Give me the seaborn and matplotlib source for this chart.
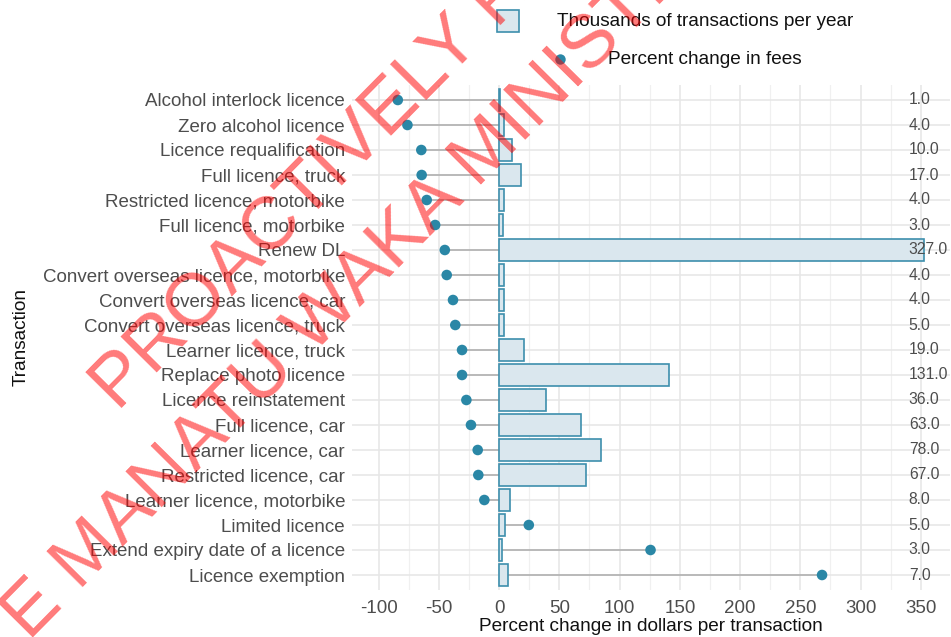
import numpy as np
import pandas as pd
import matplotlib
matplotlib.use("Agg")
import matplotlib.pyplot as plt
import seaborn as sns
from matplotlib.patches import Rectangle
from matplotlib.lines import Line2D

# ---------------- data ----------------
categories = [
    "Alcohol interlock licence", "Zero alcohol licence", "Licence requalification",
    "Full licence, truck", "Restricted licence, motorbike", "Full licence, motorbike",
    "Renew DL", "Convert overseas licence, motorbike", "Convert overseas licence, car",
    "Convert overseas licence, truck", "Learner licence, truck", "Replace photo licence",
    "Licence reinstatement", "Full licence, car", "Learner licence, car",
    "Restricted licence, car", "Learner licence, motorbike", "Limited licence",
    "Extend expiry date of a licence", "Licence exemption",
]
pct_change = [-84, -76, -64.5, -64.2, -60, -53, -45, -43.4, -38.2, -36.3,
              -30.7, -30.7, -27.1, -23.3, -17.7, -17.2, -12.2, 24.7, 125.7, 268]
bar_length = [0.8, 4.1, 10.5, 18.5, 4.3, 3.5, 352.8, 4.1, 4.0, 4.3,
              20.4, 141, 39, 67.8, 84.4, 72.2, 8.8, 4.9, 2.4, 7.4]
thousands_label = [1, 4, 10, 17, 4, 3, 327, 4, 4, 5, 19, 131, 36, 63, 78, 67, 8, 5, 3, 7]
x_ticks = [-100, -50, 0, 50, 100, 150, 200, 250, 300, 350]
x_minor = [-75, -25, 25, 75, 125, 175, 225, 275, 325]

# ---------------- style ----------------
sns.set_style("white")
plt.rcParams["font.family"] = ["Liberation Sans", "DejaVu Sans"]

W, H = 951, 637
fig = plt.figure(figsize=(W / 100, H / 100), dpi=100)


def fx(px):
    return px / W


def fy(py):
    return 1 - py / H


ax = fig.add_axes([fx(352), fy(590), (950.4 - 352) / W, (590 - 85) / H])

pos = np.arange(len(categories))
df = pd.DataFrame({"Transaction": categories, "pos": pos,
                   "bar": bar_length, "pct": pct_change})

# segments from 0 to the dot
ax.hlines(df["pos"], 0, df["pct"], color="#b5b5b5", lw=1.3, zorder=1)

# bars
sns.barplot(data=df, x="bar", y="pos", orient="h", native_scale=True,
            color="#dae7ee", saturation=1, edgecolor="#3d8fad", linewidth=1.2,
            width=0.9, ax=ax, zorder=2)

# dots
sns.scatterplot(data=df, x="pct", y="pos", color="#2a87a6", s=58,
                edgecolor="none", ax=ax, zorder=3, legend=False)

# value labels on the right
for i, v in zip(pos, thousands_label):
    ax.text(340, i, f"{v:.1f}", ha="left", va="center", fontsize=11.3,
            color="#4d4d4d", zorder=4)

ax.set_xlim(-122, 374.5)
ax.set_ylim(len(categories) - 1 + 0.6, -0.6)
ax.set_yticks(pos, labels=categories)
ax.set_xticks(x_ticks, labels=[str(t) for t in x_ticks])
ax.set_xticks(x_minor, minor=True)
ax.tick_params(axis="both", which="both", length=0, labelsize=13.5,
               labelcolor="#4d4d4d")
ax.tick_params(axis="x", pad=7)
ax.tick_params(axis="y", pad=5)
ax.grid(True, which="major", color="#e6e6e6", lw=1.1)
ax.grid(True, which="minor", axis="x", color="#f0f0f0", lw=0.9)
ax.set_axisbelow(True)
for s in ax.spines.values():
    s.set_visible(False)

ax.set_xlabel("Percent change in dollars per transaction", fontsize=13.7,
              color="#111111", labelpad=1)
ax.set_ylabel("Transaction", fontsize=13.7, color="#111111")
ax.yaxis.set_label_coords((30 - 352) / 598.4, 0.5)

# legend (manual, ggplot-like layout)
fig.add_artist(Rectangle((fx(497.5), fy(31.5)), 21.5 / W, 21.5 / H,
                         transform=fig.transFigure, facecolor="#dae7ee",
                         edgecolor="#3d8fad", lw=1.2))
fig.text(fx(557), fy(21), "Thousands of transactions per year", fontsize=13.7,
         color="#111111", ha="left", va="center")
fig.add_artist(Line2D([fx(560)], [fy(59)], transform=fig.transFigure,
                      marker="o", markersize=7.5, color="#2a87a6",
                      markeredgewidth=0))
fig.text(fx(608), fy(59), "Percent change in fees", fontsize=13.7,
         color="#111111", ha="left", va="center")

# watermark
wm = dict(fontsize=54, color="#ff0000", alpha=0.52, rotation=45.3,
          rotation_mode="anchor", ha="left", va="baseline", zorder=20)
fig.text(fx(118), fy(412), "PROACTIVELY RELEASED BY", **wm)
fig.text(fx(-3), fy(674), "TE MANATU WAKA MINISTRY OF TRANSPORT", **wm)

fig.savefig("out.png", dpi=100)
